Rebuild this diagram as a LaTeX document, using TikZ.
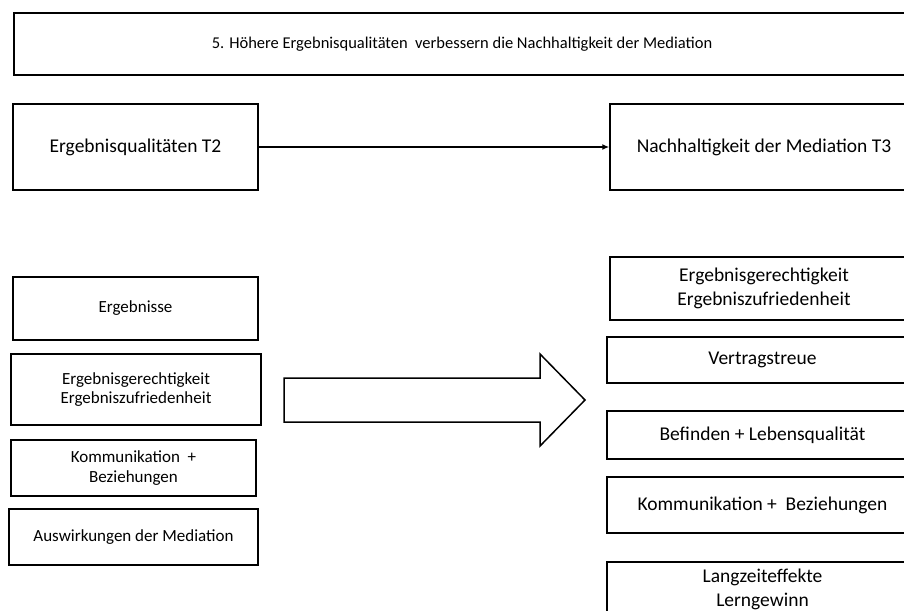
\documentclass[tikz,border=0pt]{standalone}
\usepackage{fontspec}
\setmainfont{Carlito}
\usetikzlibrary{arrows.meta, positioning}

\tikzset{
    kasten/.style={draw, line width=1.5pt, align=center, inner sep=2pt},
    titelschrift/.style={font=\fontsize{16.5}{20}\selectfont},
    klein/.style={font=\fontsize{17}{19.5}\selectfont},
    gross/.style={font=\fontsize{19.5}{24}\selectfont}
}

\begin{document}
\begin{tikzpicture}[x=1pt, y=-1pt]
    \useasboundingbox (0,0) rectangle (904,610);
    \clip (0,0) rectangle (904,610);

    % Title
    \node[kasten, titelschrift, minimum width=896pt, minimum height=62pt] (titel) at (462,44)
        {5. Höhere Ergebnisqualitäten\ \ verbessern die Nachhaltigkeit der Mediation};

    % T2 -> T3
    \node[kasten, gross, minimum width=245pt, minimum height=86pt] (t2) at (135.5,147) {Ergebnisqualitäten T2};
    \node[kasten, gross, minimum width=308pt, minimum height=86pt] (t3) at (764,147) {Nachhaltigkeit der Mediation T3};
    \draw[line width=1.5pt, -{Latex[length=7pt, width=6pt]}] (t2) -- (t3);

    % Left column
    \node[kasten, klein, minimum width=245pt, minimum height=63pt] (erg) at (135.5,308.5) {Ergebnisse};
    \node[kasten, klein, minimum width=250pt, minimum height=71pt] (gerecht) at (136,389.5)
        {Ergebnisgerechtigkeit\\Ergebniszufriedenheit};
    \node[kasten, klein, minimum width=245pt, minimum height=56pt] (komm) at (133.5,468)
        {Kommunikation\ \ +\\Beziehungen};
    \node[kasten, klein, minimum width=249pt, minimum height=56pt] (ausw) at (133.5,537) {Auswirkungen der Mediation};

    % Block arrow
    \draw[line width=1.5pt, line join=miter] (284,378) -- (540,378) -- (540,354) -- (585,400)
        -- (540,446) -- (540,422) -- (284,422) -- cycle;

    % Right column
    \node[kasten, gross, minimum width=308pt, minimum height=63pt] (rgerecht) at (764,288.5)
        {Ergebnisgerechtigkeit\\Ergebniszufriedenheit};
    \node[kasten, gross, minimum width=311pt, minimum height=46pt] (vertrag) at (762.5,360) {Vertragstreue};
    \node[kasten, gross, minimum width=311pt, minimum height=48pt] (befinden) at (762.5,435) {Befinden + Lebensqualität};
    \node[kasten, gross, minimum width=311pt, minimum height=56pt] (rkomm) at (762.5,505) {Kommunikation +\ \ Beziehungen};
    \node[kasten, gross, minimum width=311pt, minimum height=54pt] (lang) at (762.5,589)
        {Langzeiteffekte\\Lerngewinn};
\end{tikzpicture}
\end{document}
